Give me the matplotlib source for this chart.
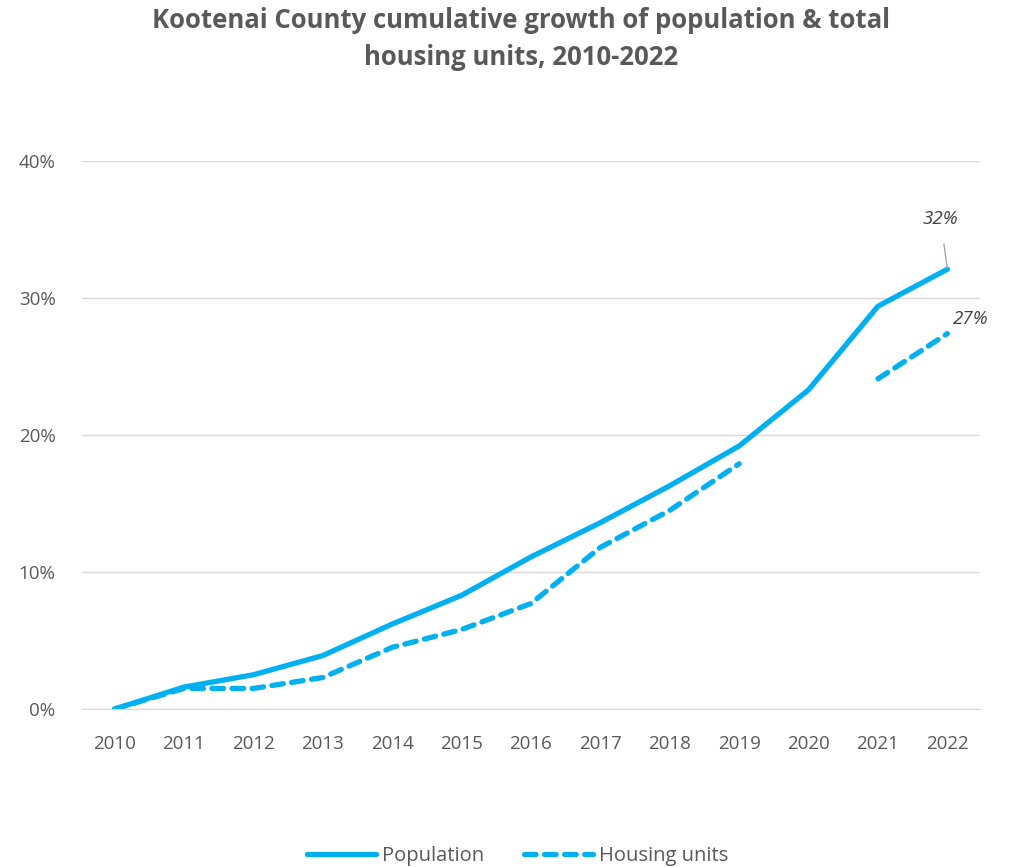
import matplotlib.pyplot as plt
import numpy as np

years = [2010, 2011, 2012, 2013, 2014, 2015, 2016, 2017, 2018, 2019, 2020, 2021, 2022]
population = [0.0, 1.6, 2.5, 3.9, 6.2, 8.3, 11.1, 13.6, 16.3, 19.2, 23.3, 29.4, 32.1]
housing = [0.0, 1.5, 1.5, 2.3, 4.5, 5.8, 7.7, 11.8, 14.5, 17.9, np.nan, 24.1, 27.4]

blue = '#00B0F0'
grey = '#595959'
plt.rcParams['font.family'] = ['Open Sans', 'DejaVu Sans']

fig = plt.figure(figsize=(10.15, 8.67), dpi=100)
ax = fig.add_axes([82 / 1015, 1 - 709 / 867, 898 / 1015, 548 / 867])

x = np.arange(len(years))
ax.plot(x, population, color=blue, linewidth=3.8, solid_capstyle='round', label='Population')
ax.plot(x, housing, color=blue, linewidth=3.8, linestyle=(0, (2.2, 1.6)),
        dash_capstyle='round', label='Housing units')

ax.set_xlim(-0.47, len(years) - 0.53)
ax.set_ylim(0, 40)
ax.set_yticks([0, 10, 20, 30, 40])
ax.set_yticklabels([f'{v}%' for v in [0, 10, 20, 30, 40]])
ax.set_xticks(x)
ax.set_xticklabels([str(y) for y in years])
ax.grid(axis='y', color='#D9D9D9', linewidth=1)
ax.set_axisbelow(True)
for s in ['top', 'right', 'left']:
    ax.spines[s].set_visible(False)
ax.spines['bottom'].set_color('#D9D9D9')
ax.tick_params(length=0, labelsize=13.5, colors=grey)
ax.tick_params(axis='x', pad=19)
ax.tick_params(axis='y', pad=19)

# end labels
ax.annotate('32%', xy=(x[-1], population[-1]), xytext=(x[-1] - 0.1, population[-1] + 3.7),
            ha='center', va='center', fontsize=13.5, style='italic', color='#404040',
            arrowprops=dict(arrowstyle='-', color='#A6A6A6', lw=1, shrinkA=10, shrinkB=1))
ax.text(x[-1] + 0.08, housing[-1] + 0.4, '27%', ha='left', va='bottom',
        fontsize=13.5, style='italic', color='#404040')

fig.text(0.513, 0.955, 'Kootenai County cumulative growth of population & total\nhousing units, 2010-2022',
         ha='center', va='center', fontsize=18.5, fontweight='bold', color=grey, linespacing=1.45)

fig.legend(loc='center', bbox_to_anchor=(0.51, 0.013), ncol=2, frameon=False,
           fontsize=14.5, labelcolor=grey, handlelength=3.4, handletextpad=0.3, columnspacing=2.0)

fig.savefig('out.png', dpi=100)
